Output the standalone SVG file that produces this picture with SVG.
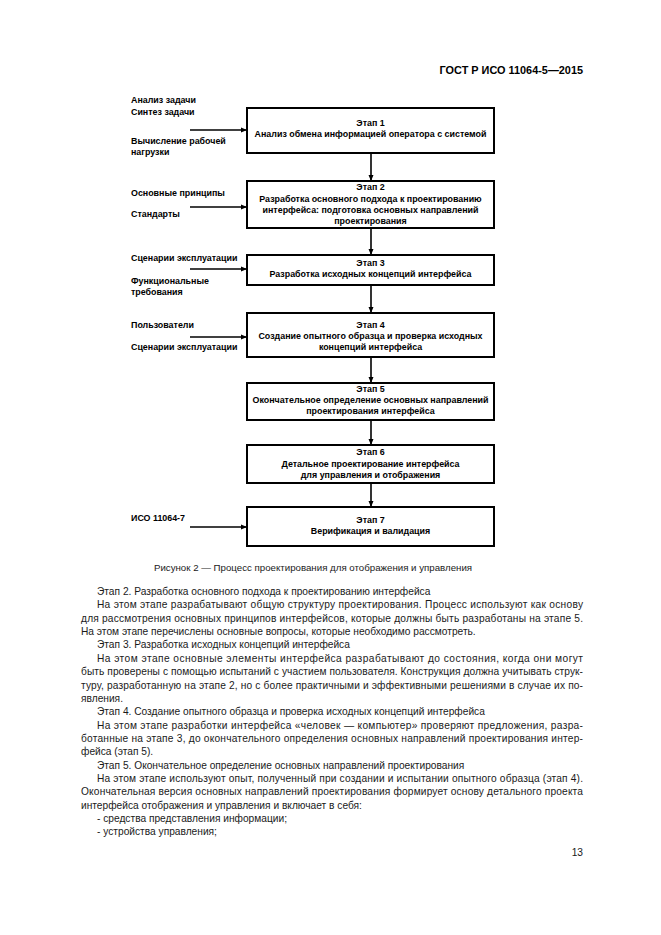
<svg xmlns="http://www.w3.org/2000/svg" width="661" height="935" viewBox="0 0 661 935">
<style>
.bg{fill:#fff}
.box{fill:#fff;stroke:#000;stroke-width:2}
.d{font-family:"Liberation Sans",Arial,sans-serif;font-size:8.9px;font-weight:bold;fill:#000}
.c{text-anchor:middle}
.ln{stroke:#000;stroke-width:1.6;fill:none}
.t{font-family:"Liberation Sans",Arial,sans-serif;font-size:10.2px;fill:#1a1a1a}
.cap{font-family:"Liberation Sans",Arial,sans-serif;font-size:9.7px;fill:#1a1a1a}
.h{font-family:"Liberation Sans",Arial,sans-serif;font-size:10.9px;font-weight:bold;fill:#000}
</style>
<defs>
<marker id="ah" markerWidth="6" markerHeight="6" refX="5" refY="3" orient="auto" markerUnits="userSpaceOnUse">
<path d="M0,0.5 L6,3 L0,5.5 Z" fill="#000"/>
</marker>
</defs>
<rect class="bg" x="0" y="0" width="661" height="935"/>
<text class="h" x="583" y="74" text-anchor="end">ГОСТ Р ИСО 11064-5—2015</text>

<g id="inputs">
<text class="d" x="131" y="103">Анализ задачи</text>
<text class="d" x="131" y="115">Синтез задачи</text>
<text class="d" x="131" y="144">Вычисление рабочей</text>
<text class="d" x="131" y="155">нагрузки</text>
<text class="d" x="131" y="196">Основные принципы</text>
<text class="d" x="131" y="217">Стандарты</text>
<text class="d" x="131" y="261">Сценарии эксплуатации</text>
<text class="d" x="131" y="284">Функциональные</text>
<text class="d" x="131" y="295">требования</text>
<text class="d" x="131" y="328">Пользователи</text>
<text class="d" x="131" y="350">Сценарии эксплуатации</text>
<text class="d" x="131" y="521">ИСО 11064-7</text>
</g>

<g id="stage1">
<rect class="box" x="247" y="108" width="247" height="45"/>
<text class="d c" x="370.5" y="126">Этап 1</text>
<text class="d c" x="370.5" y="137">Анализ обмена информацией оператора с системой</text>
</g>
<g id="stage2">
<rect class="box" x="247" y="181" width="247" height="47"/>
<text class="d c" x="370.5" y="190">Этап 2</text>
<text class="d c" x="370.5" y="202">Разработка основного подхода к проектированию</text>
<text class="d c" x="370.5" y="213">интерфейса: подготовка основных направлений</text>
<text class="d c" x="370.5" y="224">проектирования</text>
</g>
<g id="stage3">
<rect class="box" x="247" y="255" width="247" height="30"/>
<text class="d c" x="370.5" y="266">Этап 3</text>
<text class="d c" x="370.5" y="277">Разработка исходных концепций интерфейса</text>
</g>
<g id="stage4">
<rect class="box" x="247" y="313" width="247" height="44"/>
<text class="d c" x="370.5" y="328">Этап 4</text>
<text class="d c" x="370.5" y="339">Создание опытного образца и проверка исходных</text>
<text class="d c" x="370.5" y="350">концепций интерфейса</text>
</g>
<g id="stage5">
<rect class="box" x="247" y="383" width="247" height="37"/>
<text class="d c" x="370.5" y="392">Этап 5</text>
<text class="d c" x="370.5" y="403">Окончательное определение основных направлений</text>
<text class="d c" x="370.5" y="414">проектирования интерфейса</text>
</g>
<g id="stage6">
<rect class="box" x="247" y="445" width="247" height="38"/>
<text class="d c" x="370.5" y="455">Этап 6</text>
<text class="d c" x="370.5" y="467">Детальное проектирование интерфейса</text>
<text class="d c" x="370.5" y="478">для управления и отображения</text>
</g>
<g id="stage7">
<rect class="box" x="247" y="507" width="247" height="39"/>
<text class="d c" x="370.5" y="523">Этап 7</text>
<text class="d c" x="370.5" y="534">Верификация и валидация</text>
</g>

<g id="connectors">
<line class="ln" x1="190" y1="130" x2="246" y2="130" marker-end="url(#ah)"/>
<line class="ln" x1="190" y1="207" x2="246" y2="207" marker-end="url(#ah)"/>
<line class="ln" x1="190" y1="269" x2="246" y2="269" marker-end="url(#ah)"/>
<line class="ln" x1="190" y1="337" x2="246" y2="337" marker-end="url(#ah)"/>
<line class="ln" x1="190" y1="527" x2="246" y2="527" marker-end="url(#ah)"/>
<line class="ln" x1="371" y1="153" x2="371" y2="180" marker-end="url(#ah)"/>
<line class="ln" x1="371" y1="228" x2="371" y2="254" marker-end="url(#ah)"/>
<line class="ln" x1="371" y1="285" x2="371" y2="312" marker-end="url(#ah)"/>
<line class="ln" x1="371" y1="357" x2="371" y2="382" marker-end="url(#ah)"/>
<line class="ln" x1="371" y1="420" x2="371" y2="444" marker-end="url(#ah)"/>
<line class="ln" x1="371" y1="483" x2="371" y2="506" marker-end="url(#ah)"/>
</g>

<text class="cap" x="313" y="571" text-anchor="middle">Рисунок 2 — Процесс проектирования для отображения и управления</text>

<g id="body">
<text class="t" x="97" y="595">Этап 2. Разработка основного подхода к проектированию интерфейса</text>
<text class="t" x="97" y="608" textLength="486" lengthAdjust="spacing">На этом этапе разрабатывают общую структуру проектирования. Процесс используют как основу</text>
<text class="t" x="81" y="622" textLength="502" lengthAdjust="spacing">для рассмотрения основных принципов интерфейсов, которые должны быть разработаны на этапе 5.</text>
<text class="t" x="81" y="635">На этом этапе перечислены основные вопросы, которые необходимо рассмотреть.</text>
<text class="t" x="97" y="648">Этап 3. Разработка исходных концепций интерфейса</text>
<text class="t" x="97" y="662" textLength="486" lengthAdjust="spacing">На этом этапе основные элементы интерфейса разрабатывают до состояния, когда они могут</text>
<text class="t" x="81" y="675" textLength="502" lengthAdjust="spacing">быть проверены с помощью испытаний с участием пользователя. Конструкция должна учитывать струк-</text>
<text class="t" x="81" y="689" textLength="502" lengthAdjust="spacing">туру, разработанную на этапе 2, но с более практичными и эффективными решениями в случае их по-</text>
<text class="t" x="81" y="702">явления.</text>
<text class="t" x="97" y="715">Этап 4. Создание опытного образца и проверка исходных концепций интерфейса</text>
<text class="t" x="97" y="729" textLength="486" lengthAdjust="spacing">На этом этапе разработки интерфейса «человек — компьютер» проверяют предложения, разра-</text>
<text class="t" x="81" y="742" textLength="502" lengthAdjust="spacing">ботанные на этапе 3, до окончательного определения основных направлений проектирования интер-</text>
<text class="t" x="81" y="755">фейса (этап 5).</text>
<text class="t" x="97" y="769">Этап 5. Окончательное определение основных направлений проектирования</text>
<text class="t" x="97" y="782" textLength="486" lengthAdjust="spacing">На этом этапе используют опыт, полученный при создании и испытании опытного образца (этап 4).</text>
<text class="t" x="81" y="795" textLength="502" lengthAdjust="spacing">Окончательная версия основных направлений проектирования формирует основу детального проекта</text>
<text class="t" x="81" y="809">интерфейса отображения и управления и включает в себя:</text>
<text class="t" x="97" y="822">- средства представления информации;</text>
<text class="t" x="97" y="835">- устройства управления;</text>
<text class="t" x="583" y="856" text-anchor="end">13</text>
</g>
</svg>
